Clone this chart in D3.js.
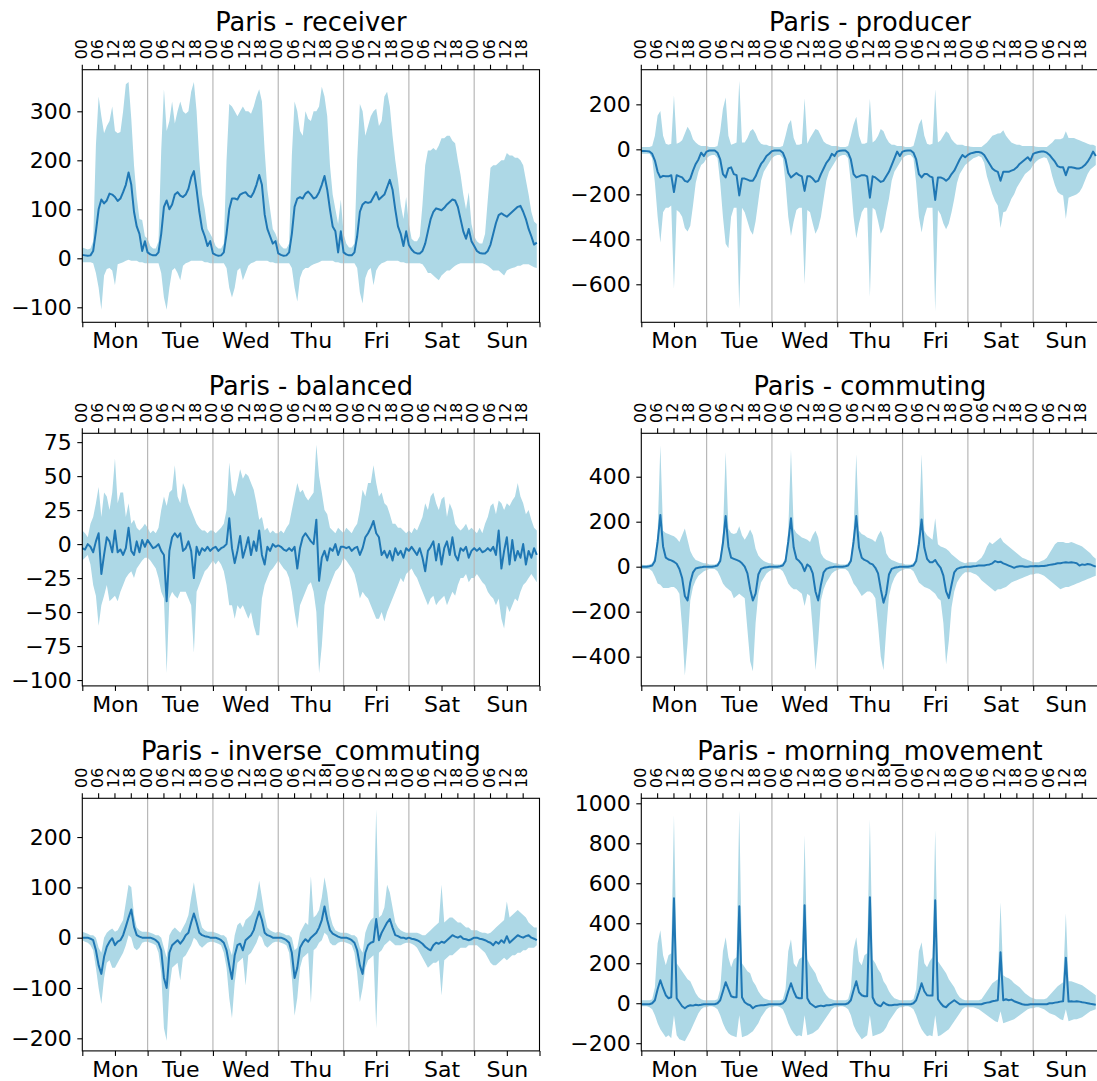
<!DOCTYPE html>
<html><head><meta charset="utf-8">
<script src="https://cdn.jsdelivr.net/npm/d3@7"></script>
<style>body{margin:0;background:#fff;overflow:hidden} svg{display:block}</style>
</head><body>
<svg id="chart" width="1097" height="1081"></svg>
<script>
const days = ["Mon","Tue","Wed","Thu","Fri","Sat","Sun"];
const hourLabels = ["00","06","12","18"];
const city = "Paris";
const panelNames = ["receiver","producer","balanced","commuting","inverse_commuting","morning_movement"];

const receiverMean = [
7,6,5,6,15,55,100,120,112,118,132,130,125,117,122,135,150,175,150,95,65,50,15,35,
12,8,6,6,12,50,105,118,100,110,130,135,128,125,130,142,165,178,140,95,60,45,25,35,
10,7,5,6,12,50,100,122,122,120,130,133,135,128,125,135,150,170,150,90,60,45,30,35,
10,7,5,6,12,50,105,122,125,122,132,136,130,122,125,135,150,168,140,100,65,55,12,55,
12,8,6,6,12,45,95,110,115,113,115,125,135,120,125,130,145,160,140,100,65,50,25,55,
27,18,12,10,10,15,30,55,80,95,102,100,98,103,110,115,120,118,105,80,55,40,60,35,
25,15,11,10,10,15,28,50,72,88,92,88,85,90,95,100,105,107,95,80,60,45,28,32];
const receiverMax = [
22,20,18,20,35,230,330,290,255,270,280,310,260,255,258,300,355,360,285,190,125,80,78,45,
40,25,20,20,35,220,345,260,280,320,275,300,320,300,295,300,340,360,300,200,130,100,60,50,
40,25,20,20,30,200,315,310,300,290,300,310,300,300,295,310,330,345,320,220,140,100,60,50,
35,25,20,20,30,210,320,300,260,250,300,285,280,300,300,310,350,330,290,190,130,100,70,120,
50,30,22,22,30,200,315,300,250,270,290,300,305,270,280,330,340,310,250,200,160,110,80,125,
70,40,35,35,45,110,190,220,220,225,220,230,245,245,250,250,240,235,200,170,130,100,135,70,
45,35,30,30,50,120,185,190,190,195,200,200,215,210,210,205,205,200,190,160,130,95,75,70];
const receiverMin = [
-8,-8,-8,-8,-10,-30,-60,-105,-35,-22,-20,-25,-55,-12,-10,-8,-5,-3,-5,-5,-5,-8,-8,-10,
-10,-10,-10,-10,-10,-30,-80,-105,-60,-25,-20,-30,-45,-15,-10,-8,-5,-5,-5,-5,-5,-8,-8,-10,
-10,-10,-10,-10,-10,-20,-60,-80,-60,-25,-20,-45,-30,-15,-10,-8,-5,-5,-5,-5,-5,-8,-8,-10,
-10,-10,-10,-10,-10,-20,-60,-88,-40,-25,-20,-20,-15,-12,-10,-8,-5,-5,-5,-5,-5,-8,-8,-10,
-10,-10,-10,-10,-10,-20,-70,-92,-40,-25,-20,-55,-25,-15,-10,-8,-5,-5,-5,-5,-5,-8,-8,-10,
-10,-10,-10,-10,-10,-12,-20,-30,-30,-35,-40,-45,-35,-30,-25,-25,-20,-15,-12,-10,-10,-10,-10,-10,
-10,-10,-10,-10,-12,-15,-20,-25,-25,-25,-30,-35,-25,-22,-20,-18,-15,-15,-12,-12,-12,-15,-18,-20];

const producerMean = [
-7,-7,-8,-10,-20,-50,-100,-125,-118,-120,-120,-115,-190,-115,-120,-125,-140,-145,-130,-95,-65,-45,-15,-30,
-10,-5,-5,-5,-15,-45,-110,-125,-85,-80,-110,-115,-205,-130,-130,-135,-140,-140,-120,-90,-65,-50,-30,-20,
-8,-5,-5,-5,-15,-45,-105,-125,-115,-105,-115,-120,-185,-120,-120,-130,-145,-140,-110,-85,-60,-45,-20,-30,
-10,-6,-5,-5,-15,-45,-110,-125,-120,-115,-115,-120,-215,-120,-125,-135,-145,-140,-120,-100,-70,-40,-10,-30,
-10,-6,-5,-5,-15,-45,-110,-125,-110,-110,-120,-125,-225,-125,-125,-130,-140,-130,-110,-95,-70,-45,-25,-35,
-25,-18,-15,-12,-12,-15,-25,-45,-65,-85,-95,-100,-140,-100,-100,-100,-95,-90,-80,-65,-55,-45,-35,-50,
-20,-15,-12,-10,-10,-15,-25,-40,-55,-75,-80,-80,-115,-80,-80,-82,-85,-85,-80,-70,-55,-35,-10,-30];
const producerMax = [
10,10,10,10,15,60,150,170,60,25,20,25,240,25,30,40,70,100,80,45,30,20,15,15,
15,10,10,10,15,80,180,230,60,20,25,30,305,30,30,50,80,90,70,40,25,20,20,15,
15,10,10,10,15,60,110,130,50,20,20,25,227,25,50,70,90,85,60,35,25,20,15,15,
15,10,10,10,15,60,110,145,60,25,25,30,225,30,40,60,90,80,50,30,20,20,15,15,
15,10,10,10,15,60,110,135,60,25,20,25,267,30,40,60,80,70,45,30,20,20,20,15,
15,12,10,10,10,10,20,30,45,60,65,70,72,85,60,45,30,25,20,20,15,15,15,15,
15,12,10,10,10,10,20,30,45,45,45,50,80,50,50,50,45,40,35,30,25,20,20,15];
const producerMin = [
-20,-20,-20,-20,-40,-150,-300,-415,-280,-260,-260,-250,-620,-270,-280,-300,-350,-365,-340,-250,-150,-100,-70,-60,
-40,-30,-25,-25,-40,-150,-300,-420,-440,-300,-260,-260,-710,-260,-280,-320,-360,-380,-320,-230,-140,-100,-80,-60,
-40,-30,-25,-25,-40,-150,-300,-385,-320,-270,-260,-260,-600,-270,-280,-330,-375,-350,-300,-220,-140,-100,-80,-60,
-40,-30,-25,-25,-40,-150,-300,-395,-330,-280,-260,-260,-655,-260,-270,-320,-375,-350,-280,-220,-140,-100,-80,-60,
-40,-30,-25,-25,-40,-150,-300,-370,-300,-260,-260,-260,-720,-270,-290,-330,-355,-330,-280,-220,-150,-110,-90,-70,
-60,-50,-40,-35,-30,-35,-60,-120,-160,-200,-230,-250,-350,-280,-275,-250,-220,-200,-170,-150,-130,-110,-100,-90,
-70,-55,-45,-40,-35,-40,-70,-120,-160,-190,-200,-205,-310,-215,-210,-205,-200,-190,-170,-140,-110,-90,-80,-70];

const balancedMean = [
-3,-4,0,-2,-6,2,8,-22,-8,5,2,-6,10,-6,-4,-8,-3,12,-5,-8,2,-6,3,-2,
3,0,-3,-2,0,-5,-8,-42,-5,5,8,5,8,-5,-3,2,-5,-25,-2,-8,-3,-5,-2,-5,
-3,-2,-5,-3,-2,0,19,-3,-14,-5,6,-10,-3,5,-8,2,-5,10,-8,-15,-2,-5,0,-2,
-1,-2,-4,-5,-3,-5,-2,-18,-3,5,8,5,2,0,18,-27,-10,-5,-12,-3,-5,0,-8,-2,
-2,-3,-2,-5,-3,-2,-8,-3,5,8,12,17,8,5,-8,-5,-10,-5,-12,-3,-8,-5,-10,-3,
-5,-2,-5,-8,-3,-10,-20,-5,-2,2,-12,0,-15,-3,2,-8,5,-8,-12,-3,-5,-2,-10,-5,
-3,-5,-3,-6,-5,-3,-5,-2,-8,10,-18,-5,5,-15,3,-12,-5,-10,0,-15,-5,-10,-3,-8];
const balancedMax = [
10,8,5,15,20,30,42,20,38,35,25,38,63,30,38,38,20,30,15,18,12,10,12,15,
12,8,10,8,12,25,35,28,38,40,58,35,30,45,40,30,25,20,15,12,10,10,8,10,
10,8,10,12,15,25,60,40,35,45,55,48,52,50,45,40,30,18,20,10,12,8,10,8,
8,10,8,12,15,25,35,45,38,40,35,32,35,38,73,50,38,25,22,12,10,8,12,10,
8,12,10,8,12,15,25,40,35,45,45,58,45,35,38,30,28,22,15,15,12,12,10,8,
10,8,12,10,15,20,30,25,35,38,30,25,33,35,20,30,25,15,12,10,12,15,10,12,
10,8,12,8,15,20,28,30,22,32,30,25,30,28,32,35,45,35,30,22,25,18,12,10];
const balancedMin = [
-12,-10,-8,-15,-30,-38,-60,-45,-38,-30,-42,-40,-38,-42,-35,-30,-25,-22,-20,-25,-18,-15,-12,-10,
-10,-12,-15,-18,-25,-35,-40,-95,-40,-35,-38,-40,-35,-35,-35,-40,-45,-80,-35,-30,-25,-20,-18,-15,
-12,-15,-12,-15,-20,-30,-45,-45,-55,-45,-48,-45,-50,-55,-50,-60,-67,-67,-40,-30,-25,-20,-18,-15,
-12,-15,-18,-20,-25,-35,-50,-62,-45,-40,-35,-30,-28,-35,-50,-95,-75,-45,-35,-30,-25,-20,-18,-15,
-10,-12,-15,-18,-22,-30,-40,-35,-38,-40,-45,-50,-55,-55,-50,-57,-50,-45,-40,-35,-30,-25,-28,-22,
-20,-18,-22,-25,-30,-35,-40,-45,-40,-38,-45,-42,-40,-38,-45,-40,-35,-38,-30,-25,-25,-22,-28,-25,
-25,-22,-25,-28,-30,-35,-38,-40,-45,-40,-55,-62,-45,-50,-45,-40,-42,-35,-30,-28,-25,-22,-25,-28];

const commutingMean = [
0,0,0,2,5,25,110,230,90,40,32,28,22,13,-10,-50,-130,-150,-70,-25,-8,-5,-3,0,
0,0,0,2,5,25,105,225,90,40,35,30,25,15,0,-30,-100,-150,-120,-35,-10,-5,-3,0,
0,0,0,2,5,25,110,215,85,35,25,10,-20,10,0,-30,-110,-150,-80,-25,-10,-5,-3,0,
0,0,0,2,5,25,110,225,85,40,30,25,15,10,-5,-30,-100,-160,-120,-35,-10,-5,-3,0,
0,0,0,2,5,25,100,210,85,35,20,20,30,10,-5,-40,-110,-140,-80,-25,-10,-5,-3,0,
0,0,2,3,5,5,5,8,10,15,25,20,22,15,10,5,0,-5,0,2,2,0,0,2,
2,3,2,3,3,5,8,10,12,15,15,18,20,18,20,18,15,5,10,8,12,10,5,0];
const commutingMax = [
10,8,8,10,15,45,150,540,160,150,145,140,135,125,110,140,170,120,70,45,30,25,20,15,
15,10,10,10,15,40,150,510,170,150,145,150,180,140,120,140,165,140,80,50,35,25,20,15,
15,10,10,10,15,40,160,520,170,150,140,130,125,120,110,140,160,130,60,40,30,25,20,15,
15,10,10,10,15,40,160,500,160,145,140,130,125,120,110,140,160,130,60,40,30,25,20,15,
15,10,10,10,15,40,150,500,160,140,130,120,215,100,90,85,80,70,55,45,35,25,20,15,
20,20,20,20,30,40,60,90,110,100,110,120,130,110,100,90,80,70,60,50,40,35,30,25,
20,20,20,25,30,40,60,80,100,110,110,110,105,105,110,105,100,95,90,80,70,60,45,35];
const commutingMin = [
-10,-10,-10,-10,-20,-45,-75,-80,-95,-95,-95,-90,-90,-100,-120,-270,-485,-340,-150,-90,-60,-40,-30,-20,
-15,-10,-10,-10,-20,-45,-75,-90,-100,-110,-140,-130,-120,-130,-140,-280,-420,-465,-250,-120,-70,-50,-30,-20,
-15,-10,-10,-10,-20,-45,-75,-90,-100,-100,-110,-120,-175,-120,-130,-280,-460,-330,-150,-100,-70,-50,-30,-20,
-15,-10,-10,-10,-20,-45,-75,-90,-110,-130,-120,-110,-110,-120,-140,-260,-400,-460,-280,-130,-80,-50,-30,-20,
-15,-10,-10,-10,-20,-45,-70,-80,-90,-95,-100,-110,-120,-140,-150,-250,-435,-330,-180,-110,-70,-50,-35,-25,
-25,-25,-30,-35,-45,-60,-70,-80,-90,-100,-110,-100,-100,-95,-90,-80,-70,-65,-60,-55,-50,-45,-40,-35,
-35,-30,-30,-35,-40,-50,-60,-70,-80,-90,-100,-95,-90,-90,-85,-80,-75,-70,-65,-60,-55,-50,-45,-40];

const inverseMean = [
0,0,0,-2,-5,-25,-55,-72,-38,-18,-8,-1,-15,-8,-5,5,22,40,56,22,5,2,0,0,
0,0,-2,-5,-10,-25,-80,-100,-30,-15,-10,-5,-12,-5,5,10,30,48,30,10,5,3,2,0,
0,0,-2,-5,-10,-25,-55,-82,-35,-15,-12,-25,-5,0,5,15,35,52,35,10,5,3,0,0,
0,0,-2,-5,-10,-30,-80,-60,-20,-10,-3,-8,0,5,10,20,35,62,35,15,8,5,2,0,
0,0,-2,-5,-10,-25,-55,-72,-30,-15,-10,-8,37,-5,10,20,30,37,20,5,3,0,0,-2,
0,-2,-3,-5,-8,-12,-18,-22,-25,-15,-10,-12,-8,-10,-5,0,5,2,0,3,-2,-3,-5,-3,
0,0,-2,-3,-5,-8,-10,-15,-8,-12,-5,-10,3,-10,-5,0,5,2,0,3,5,0,-2,-5];
const inverseMax = [
12,10,8,5,5,0,-20,-30,0,10,15,18,12,15,25,35,70,105,100,45,20,15,12,12,
12,10,8,5,5,0,-20,-40,5,15,20,15,10,20,30,45,80,110,75,40,20,15,12,12,
12,10,8,5,5,0,-20,-35,5,25,30,20,35,40,45,55,80,113,80,45,20,15,12,10,
12,10,8,5,5,0,-25,-20,10,20,30,25,122,40,45,55,80,120,90,45,25,15,12,10,
10,10,8,5,5,0,-20,-30,10,25,35,40,255,40,45,60,105,90,60,30,20,15,12,10,
10,10,10,10,8,5,5,10,15,20,25,30,105,30,35,40,40,35,30,30,25,20,20,15,
15,15,12,10,10,8,10,15,20,25,30,35,72,40,45,50,55,50,45,40,30,25,20,20];
const inverseMin = [
-5,-8,-10,-15,-25,-60,-100,-132,-80,-50,-45,-60,-60,-50,-40,-30,-15,5,0,-20,-25,-20,-10,-8,
-8,-10,-12,-15,-30,-70,-180,-205,-100,-60,-55,-50,-85,-40,-35,-25,-15,0,-5,-15,-20,-15,-10,-8,
-8,-10,-12,-15,-30,-60,-120,-160,-90,-50,-45,-40,-95,-35,-30,-20,-10,5,0,-15,-20,-15,-10,-8,
-8,-10,-12,-15,-30,-80,-155,-120,-60,-40,-35,-30,-130,-25,-20,-10,-5,10,5,-10,-15,-15,-10,-8,
-8,-10,-12,-15,-30,-70,-128,-100,-60,-45,-40,-35,-180,-30,-25,-15,-10,-5,-10,-15,-15,-15,-12,-10,
-10,-12,-15,-20,-30,-40,-50,-60,-55,-50,-50,-45,-115,-45,-40,-35,-35,-30,-25,-20,-20,-20,-15,-15,
-15,-15,-20,-25,-30,-40,-50,-55,-55,-50,-45,-40,-45,-40,-35,-35,-30,-30,-25,-25,-20,-20,-20,-15];

const morningMean = [
-5,-5,-5,-5,0,15,70,115,75,40,25,30,525,25,5,-15,-25,-15,-10,-12,-8,-10,-8,-5,
-5,-5,-5,-5,0,15,60,105,70,35,30,30,485,30,5,-5,-10,-25,-15,-12,-10,-10,-8,-5,
-5,-5,-5,-5,0,15,60,100,60,30,25,25,490,25,0,-10,-20,-15,-12,-15,-10,-10,-8,-5,
-5,-5,-5,-5,0,15,65,110,55,40,35,35,530,30,0,-10,-15,5,-5,-10,-10,-8,-8,-5,
-5,-5,-5,-5,0,15,55,100,60,40,38,38,515,20,0,-15,-20,-5,5,15,5,-5,-5,-5,
-5,-5,-5,-5,-5,-5,0,3,5,10,12,15,255,15,20,15,18,10,5,0,-5,-8,-8,-5,
-5,-5,-5,-5,-5,-5,0,0,3,5,8,10,228,8,10,8,10,8,5,3,0,-3,-5,-8];
const morningMax = [
15,15,15,15,20,80,300,365,240,190,240,250,940,200,180,160,140,120,110,80,50,30,20,15,
15,15,15,15,20,70,260,330,230,180,220,230,965,200,180,160,150,110,90,60,40,25,20,15,
15,15,15,15,20,70,260,320,200,180,220,230,840,220,190,170,150,110,90,60,40,25,20,15,
15,15,15,15,20,70,270,330,210,190,240,250,920,220,200,170,150,110,90,60,40,25,20,15,
15,15,15,15,20,70,260,305,200,180,210,230,865,210,190,170,150,120,100,80,50,30,20,15,
15,15,15,15,15,20,40,60,80,100,110,120,505,140,130,125,115,100,90,80,65,50,40,30,
25,20,20,20,20,25,40,55,70,85,95,105,450,110,110,105,100,95,90,80,70,60,50,40];
const morningMin = [
-15,-15,-15,-20,-30,-60,-100,-130,-150,-170,-160,-175,-60,-160,-180,-185,-190,-165,-140,-110,-80,-50,-30,-20,
-20,-15,-15,-20,-30,-60,-100,-130,-150,-160,-165,-170,-60,-170,-165,-160,-150,-140,-120,-100,-70,-50,-30,-20,
-20,-15,-15,-20,-30,-60,-100,-130,-150,-165,-160,-165,-60,-160,-155,-150,-140,-130,-110,-90,-70,-50,-30,-20,
-20,-15,-15,-20,-30,-60,-110,-140,-160,-180,-170,-160,-60,-165,-160,-155,-150,-140,-120,-90,-70,-50,-30,-20,
-20,-15,-15,-20,-30,-60,-100,-130,-150,-165,-160,-165,-60,-165,-160,-150,-140,-130,-110,-90,-70,-50,-30,-20,
-20,-20,-20,-25,-30,-40,-50,-60,-70,-80,-90,-95,-40,-100,-95,-90,-85,-80,-70,-60,-50,-40,-30,-25,
-25,-20,-20,-25,-30,-40,-50,-55,-60,-70,-80,-85,-30,-90,-85,-80,-80,-75,-70,-60,-50,-40,-35,-30];

const yTicksReceiver = [-100,0,100,200,300];
const yTicksProducer = [-600,-400,-200,0,200];
const yTicksBalanced = [-100,-75,-50,-25,0,25,50,75];
const yTicksCommuting = [-400,-200,0,200,400];
const yTicksInverse = [-200,-100,0,100,200];
const yTicksMorning = [-200,0,200,400,600,800,1000];

// axis ranges (as shown in the reference)
const yRanges = [[-130.6,384.9],[-769,354],[-104.3,81.5],[-530,593],[-225,277],[-238.5,1025]];

const panels = [
  {mean: receiverMean, max: receiverMax, min: receiverMin, ticks: yTicksReceiver},
  {mean: producerMean, max: producerMax, min: producerMin, ticks: yTicksProducer},
  {mean: balancedMean, max: balancedMax, min: balancedMin, ticks: yTicksBalanced},
  {mean: commutingMean, max: commutingMax, min: commutingMin, ticks: yTicksCommuting},
  {mean: inverseMean, max: inverseMax, min: inverseMin, ticks: yTicksInverse},
  {mean: morningMean, max: morningMax, min: morningMin, ticks: yTicksMorning}
];

const FONT = "'DejaVu Sans', sans-serif";
const svg = d3.select("#chart");
const W = 457.2, H = 252.6;
const lefts = [82.3, 641.3], tops = [69.7, 433.3, 798.3];
const hoursTotal = days.length * 24;
const fmt = d => d < 0 ? "\u2212" + Math.abs(d) : String(d);

panels.forEach((p, pi) => {
  const col = pi % 2, row = Math.floor(pi / 2);
  const g = svg.append("g").attr("transform", `translate(${lefts[col]},${tops[row]})`);
  const x = d3.scaleLinear().domain([0, hoursTotal]).range([0, W]);
  const y = d3.scaleLinear().domain(yRanges[pi]).range([H, 0]);
  const idx = d3.range(p.mean.length);

  g.append("path").datum(idx)
    .attr("d", d3.area().x(i => x(i)).y0(i => y(p.min[i])).y1(i => y(p.max[i])))
    .attr("fill", "#add8e6");

  g.selectAll("line.day").data(d3.range(1, days.length)).join("line")
    .attr("class", "day")
    .attr("x1", d => x(d * 24)).attr("x2", d => x(d * 24))
    .attr("y1", 0).attr("y2", H)
    .attr("stroke", "#b8b8b8").attr("stroke-width", 1.2);

  g.append("path").datum(idx)
    .attr("d", d3.line().x(i => x(i)).y(i => y(p.mean[i])))
    .attr("fill", "none").attr("stroke", "#1f77b4").attr("stroke-width", 2)
    .attr("stroke-linejoin", "round");

  // left axis
  const ay = g.append("g").call(d3.axisLeft(y).tickValues(p.ticks).tickSize(5).tickSizeOuter(0).tickPadding(5.6).tickFormat(fmt));
  ay.select(".domain").remove();
  ay.attr("font-size", 22).attr("font-family", FONT);
  ay.selectAll("line").attr("stroke", "#000").attr("stroke-width", 1.1);
  ay.selectAll("text").attr("fill", "#000");

  // bottom axis
  const ax = g.append("g").attr("transform", `translate(0,${H})`)
    .call(d3.axisBottom(x).tickValues(d3.range(0, hoursTotal + 1, 12)).tickSize(5).tickSizeOuter(0).tickPadding(5.4)
      .tickFormat(d => (d % 24 === 12) ? days[(d - 12) / 24] : ""));
  ax.select(".domain").remove();
  ax.attr("font-size", 22).attr("font-family", FONT);
  ax.selectAll("line").attr("stroke", "#000").attr("stroke-width", 1.1);
  ax.selectAll("text").attr("fill", "#000");

  // top axis with rotated hour labels
  const topTicks = d3.range(0, hoursTotal, 6);
  g.selectAll("line.tt").data(topTicks).join("line").attr("class", "tt")
    .attr("x1", d => x(d)).attr("x2", d => x(d)).attr("y1", 0).attr("y2", -5)
    .attr("stroke", "#000").attr("stroke-width", 1.1);
  g.selectAll("text.tt").data(topTicks).join("text").attr("class", "tt")
    .attr("transform", d => `translate(${x(d) + 4.2},${-10.4}) rotate(-90)`)
    .attr("font-family", FONT).attr("font-size", 15.8).attr("fill", "#000")
    .attr("text-anchor", "start")
    .text(d => hourLabels[(d % 24) / 6]);

  // spines
  g.append("rect").attr("x", 0).attr("y", 0).attr("width", W).attr("height", H)
    .attr("fill", "none").attr("stroke", "#000").attr("stroke-width", 1.1);

  // title
  g.append("text").attr("x", W / 2).attr("y", -38.7)
    .attr("text-anchor", "middle").attr("font-family", FONT).attr("font-size", 25.7).attr("fill", "#000")
    .text(`${city} - ${panelNames[pi]}`);
});
</script>
</body></html>
